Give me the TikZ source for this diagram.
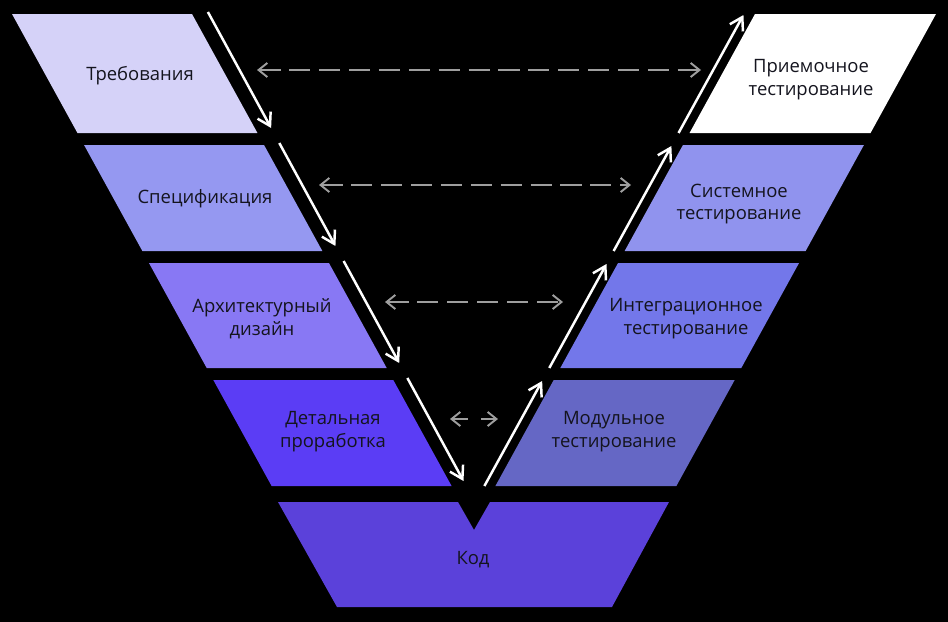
\documentclass[tikz,border=0pt]{standalone}
\usepackage{fontspec}
\setmainfont{Open Sans}
\usetikzlibrary{arrows.meta}
\definecolor{treb}{HTML}{D5D2F8}
\definecolor{spec}{HTML}{9598F1}
\definecolor{arch}{HTML}{8878F4}
\definecolor{detl}{HTML}{5B3DF5}
\definecolor{prie}{HTML}{FFFFFF}
\definecolor{syst}{HTML}{9093EE}
\definecolor{intg}{HTML}{7377EA}
\definecolor{modl}{HTML}{6567C5}
\definecolor{kod}{HTML}{5B41DA}
\definecolor{ink}{HTML}{14141E}
\definecolor{seri}{HTML}{9E9E9E}
\begin{document}
\begin{tikzpicture}[x=0.02cm,y=-0.02cm,
	arrow/.style={white,line width=1.4pt,-{Straight Barb[length=7pt,width=8.5pt]}},
	dasharrow/.style={seri,line width=1.1pt,{Straight Barb[length=5pt,width=8pt]}-{Straight Barb[length=5pt,width=8pt]}},
	longdash/.style={dash pattern=on 12pt off 5pt},
	shortdash/.style={dash pattern=on 8.8pt off 7.4pt},
	label/.style={align=center,text=ink,font=\fontsize{10.5}{13}\selectfont}]
	\fill[black] (0,0) rectangle (948,622);
	% left side, going down
	\foreach \i/\ytop/\ybot/\mau/\tx/\ty/\nhan in {1/14/133/treb/140/76/Требования,2/145/251/spec/205/199/Спецификация,3/263/368/arch/262/319/{Архитектурный\\дизайн},4/380/486/detl/333/432/{Детальная\\проработка}}
	{
		\fill[\mau] ({12+0.55*(\ytop-14)},\ytop)--({192+0.55*(\ytop-14)},\ytop)--({192+0.55*(\ybot-14)},\ybot)--({12+0.55*(\ybot-14)},\ybot)--cycle;
		\node[label] (left\i) at (\tx,\ty) {\nhan};
		\coordinate (d\i a) at ({209+0.545*(\ytop-16)},\ytop-2);
		\coordinate (d\i b) at ({209+0.545*(\ybot-19)},\ybot-5);
		\draw[arrow] (d\i a)--(d\i b);
	}
	% right side, going up
	\foreach \i/\ytop/\ybot/\mau/\tx/\ty/\nhan in {1/14/133/prie/811/80/{Приемочное\\тестирование},2/145/251/syst/739/204/{Системное\\тестирование},3/263/368/intg/686/319/{Интеграционное\\тестирование},4/380/486/modl/614/432/{Модульное\\тестирование}}
	{
		\fill[\mau] ({755-0.55*(\ytop-14)},\ytop)--({936-0.55*(\ytop-14)},\ytop)--({936-0.55*(\ybot-14)},\ybot)--({755-0.55*(\ybot-14)},\ybot)--cycle;
		\node[label] (right\i) at (\tx,\ty) {\nhan};
		\coordinate (u\i a) at ({744-0.55*(\ybot-14)},\ybot);
		\coordinate (u\i b) at ({744-0.55*(\ytop-13)},\ytop+1);
		\draw[arrow] (u\i a)--(u\i b);
	}
	% code block with notch
	\fill[kod] (278,502)--(458,502)--(474,530)--(490,502)--(669,502)--(612,607)--(337,607)--cycle;
	\node[label] (code) at (473,560) {Код};
	% dashed links
	\foreach \i/\y/\cx/\w/\pat in {1/70/479/222/longdash,2/185/475/156/longdash,3/302/474/89/longdash,4/419/474/24/shortdash}
	{
		\coordinate (l\i) at (\cx-\w,\y);
		\coordinate (r\i) at (\cx+\w,\y);
		\draw[dasharrow,\pat] (l\i)--(r\i);
	}
\end{tikzpicture}
\end{document}
